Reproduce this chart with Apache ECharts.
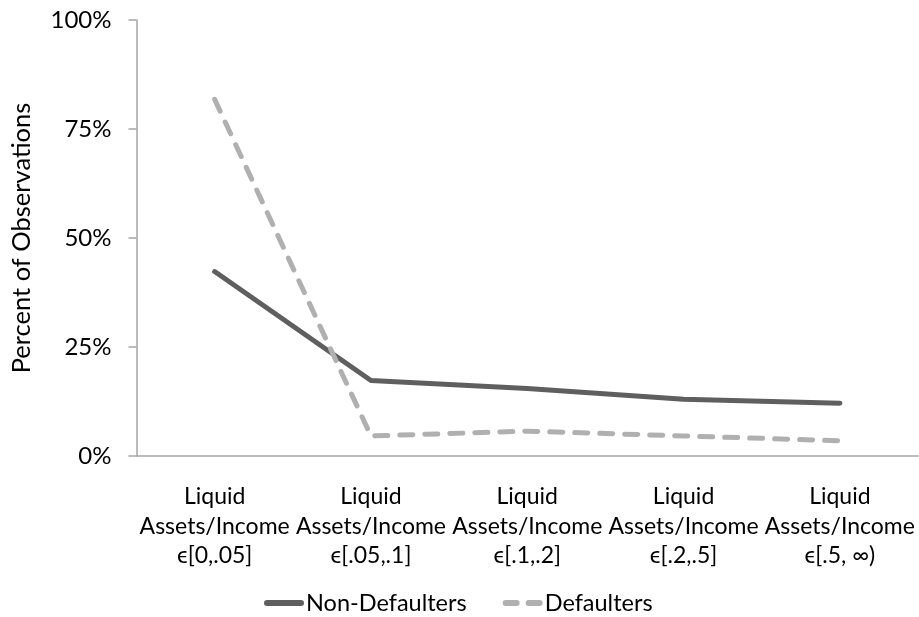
<!DOCTYPE html>
<html>
<head>
<meta charset="utf-8">
<script src="https://cdn.jsdelivr.net/npm/echarts@6/dist/echarts.min.js"></script>
<style>
  html, body { margin: 0; padding: 0; background: #fff; }
  #main { width: 919px; height: 617px; }
</style>
</head>
<body>
<div id="main"></div>
<script>
// categories and values (percent)
var categories = [
    'Liquid\nAssets/Income\n\u03f5[0,.05]',
    'Liquid\nAssets/Income\n\u03f5[.05,.1]',
    'Liquid\nAssets/Income\n\u03f5[.1,.2]',
    'Liquid\nAssets/Income\n\u03f5[.2,.5]',
    'Liquid\nAssets/Income\n\u03f5[.5, \u221e)'
];
var nonDefaulters = [42.3, 17.3, 15.5, 13.0, 12.1];
var defaulters = [81.8, 4.6, 5.7, 4.6, 3.5];
var yTicks = [0, 25, 50, 75, 100];

var fontName = 'Lato';
var darkGray = '#5f5f5f', lightGray = '#b0b0b0';
var chart = echarts.init(document.getElementById('main'));
chart.setOption({
    animation: false,
    backgroundColor: '#fff',
    textStyle: {fontFamily: fontName, color: '#000'},
    grid: {left: 136.5, right: 1, top: 20, bottom: 161},
    legend: {
        bottom: -3,
        left: 259,
        itemWidth: 40,
        itemHeight: 6,
        itemGap: 36,
        textStyle: {fontFamily: fontName, fontSize: 23.5, color: '#000', padding: [0, 0, 0, -3]},
        data: [
            {name: 'Non-Defaulters', icon: 'path://M3,0h34a3,3 0 0 1 0,6h-34a3,3 0 0 1 0,-6z', itemStyle: {color: darkGray}},
            {name: 'Defaulters', icon: 'path://M3,0h11a3,3 0 0 1 0,6h-11a3,3 0 0 1 0,-6z M26,0h11a3,3 0 0 1 0,6h-11a3,3 0 0 1 0,-6z', itemStyle: {color: lightGray}}
        ]
    },
    xAxis: {
        type: 'category',
        data: categories,
        boundaryGap: true,
        axisLine: {lineStyle: {color: '#a6a6a6', width: 1.5}},
        axisTick: {length: 7, lineStyle: {color: '#a6a6a6', width: 1.5}},
        axisLabel: {
            interval: 0,
            margin: 26,
            fontSize: 23,
            lineHeight: 29.5,
            color: '#000',
            fontFamily: fontName
        }
    },
    yAxis: {
        type: 'value',
        min: 0,
        max: 100,
        interval: 25,
        name: 'Percent of Observations',
        nameLocation: 'middle',
        nameGap: 102,
        nameTextStyle: {fontSize: 25.5, color: '#000', fontFamily: fontName},
        splitLine: {show: false},
        axisLine: {show: true, lineStyle: {color: '#a6a6a6', width: 1.5}},
        axisTick: {show: true, length: 8, lineStyle: {color: '#a6a6a6', width: 1.5}},
        axisLabel: {
            margin: 25,
            fontSize: 24,
            color: '#000',
            fontFamily: fontName,
            formatter: function (v) { return yTicks.indexOf(v) >= 0 ? v + '%' : ''; }
        }
    },
    series: [
        {
            name: 'Non-Defaulters',
            type: 'line',
            data: nonDefaulters,
            symbol: 'none',
            itemStyle: {color: darkGray},
            lineStyle: {color: darkGray, width: 5, cap: 'round', join: 'round'}
        },
        {
            name: 'Defaulters',
            type: 'line',
            data: defaulters,
            symbol: 'none',
            itemStyle: {color: lightGray},
            lineStyle: {color: lightGray, width: 5, type: [13, 12], cap: 'round', join: 'round'}
        }
    ]
});
</script>
</body>
</html>
